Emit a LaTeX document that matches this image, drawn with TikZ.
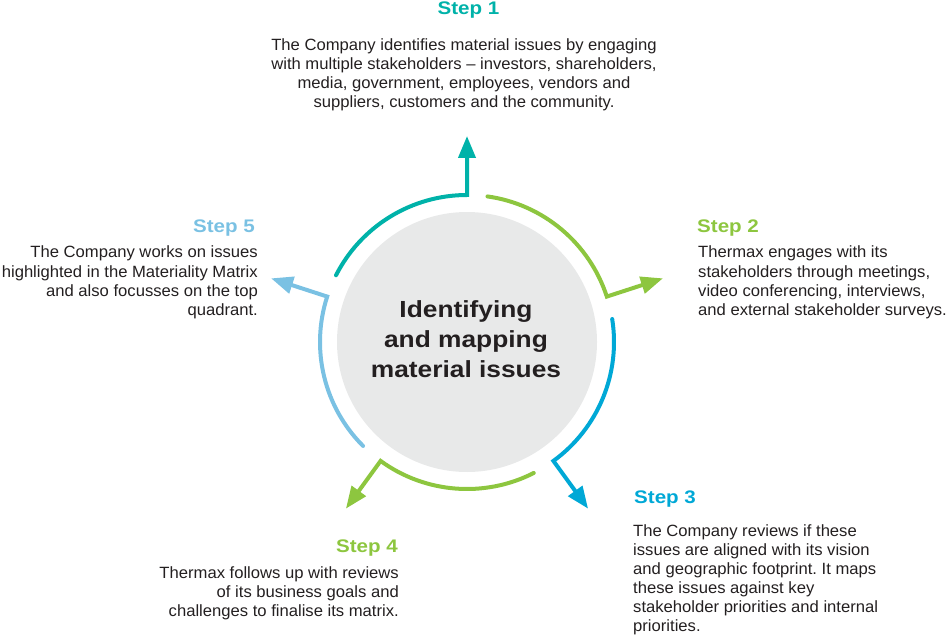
\documentclass[tikz,border=0pt]{standalone}
\usepackage{fontspec}
\setmainfont{Liberation Sans}[FakeStretch=1.02]
\newfontfamily\headfont{Liberation Sans}[FakeStretch=1.13]
\frenchspacing
\usetikzlibrary{arrows.meta}
\definecolor{cteal}{RGB}{0,178,169}
\definecolor{cgreen}{RGB}{141,198,63}
\definecolor{cblue}{RGB}{0,168,214}
\definecolor{clight}{RGB}{122,193,227}
\definecolor{cgray}{RGB}{232,233,233}
\definecolor{ctext}{RGB}{35,31,32}
\tikzset{
  cyc/.style={line width=4pt, line cap=round, line join=miter, -{Triangle[length=22pt,width=17pt]}},
  steplabel/.style={inner sep=0pt, font=\headfont\bfseries\fontsize{18.2}{22}\selectfont},
  body/.style={inner sep=0pt, text=ctext, font=\fontsize{16.3}{19.1}\selectfont},
  hubtext/.style={inner sep=0pt, text=ctext, font=\headfont\bfseries\fontsize{23.3}{30}\selectfont}
}
\begin{document}
\begin{tikzpicture}[x=1pt,y=1pt]
\useasboundingbox (0,0) rectangle (947,-636);
\coordinate (C) at (467,-342);
\fill[cgray] (C) circle[radius=130];
\node[hubtext, anchor=base] (hub) at (466,-317) {\begin{tabular}[t]{@{}c@{}}Identifying\\and mapping\\material issues\end{tabular}};

% arrow tips
\coordinate (t1) at ([shift={(90:206)}]C);
\coordinate (t2) at ([shift={(18:206)}]C);
\coordinate (t3) at ([shift={(-54:206)}]C);
\coordinate (t4) at ([shift={(-126:206)}]C);
\coordinate (t5) at ([shift={(162:206)}]C);

\draw[cyc, cteal] ([shift={(153:147)}]C) arc[start angle=153, end angle=90, radius=147] -- (t1);
\draw[cyc, cgreen] ([shift={(82:147)}]C) arc[start angle=82, end angle=18, radius=147] -- (t2);
\draw[cyc, cblue] ([shift={(9:147)}]C) arc[start angle=9, end angle=-54, radius=147] -- (t3);
\draw[cyc, cgreen] ([shift={(-63:147)}]C) arc[start angle=-63, end angle=-126, radius=147] -- (t4);
\draw[cyc, clight] ([shift={(-135:147)}]C) arc[start angle=-135, end angle=-198, radius=147] -- (t5);

% Step 1
\node[steplabel, text=cteal, anchor=base] (s1) at (468.5,-15) {Step 1};
\node[body, anchor=base] (b1) at (464,-50.5) {\begin{tabular}[t]{@{}c@{}}The Company identifies material issues by engaging\\with multiple stakeholders -- investors, shareholders,\\media, government, employees, vendors and\\suppliers, customers and the community.\end{tabular}};

% Step 2
\node[steplabel, text=cgreen, anchor=base west] (s2) at (697,-233) {Step 2};
\node[body, anchor=base west] (b2) at (698,-258) {\begin{tabular}[t]{@{}l@{}}Thermax engages with its\\stakeholders through meetings,\\video conferencing, interviews,\\and external stakeholder surveys.\end{tabular}};

% Step 3
\node[steplabel, text=cblue, anchor=base west] (s3) at (634,-503) {Step 3};
\node[body, anchor=base west] (b3) at (633,-536) {\begin{tabular}[t]{@{}l@{}}The Company reviews if these\\issues are aligned with its vision\\and geographic footprint. It maps\\these issues against key\\stakeholder priorities and internal\\priorities.\end{tabular}};

% Step 4
\node[steplabel, text=cgreen, anchor=base east] (s4) at (398,-552) {Step 4};
\node[body, anchor=base east] (b4) at (399,-578) {\begin{tabular}[t]{@{}r@{}}Thermax follows up with reviews\\of its business goals and\\challenges to finalise its matrix.\end{tabular}};

% Step 5
\node[steplabel, text=clight, anchor=base east] (s5) at (255,-233) {Step 5};
\node[body, anchor=base east] (b5) at (258,-258) {\begin{tabular}[t]{@{}r@{}}The Company works on issues\\highlighted in the Materiality Matrix\\and also focusses on the top\\quadrant.\end{tabular}};
\end{tikzpicture}
\end{document}
